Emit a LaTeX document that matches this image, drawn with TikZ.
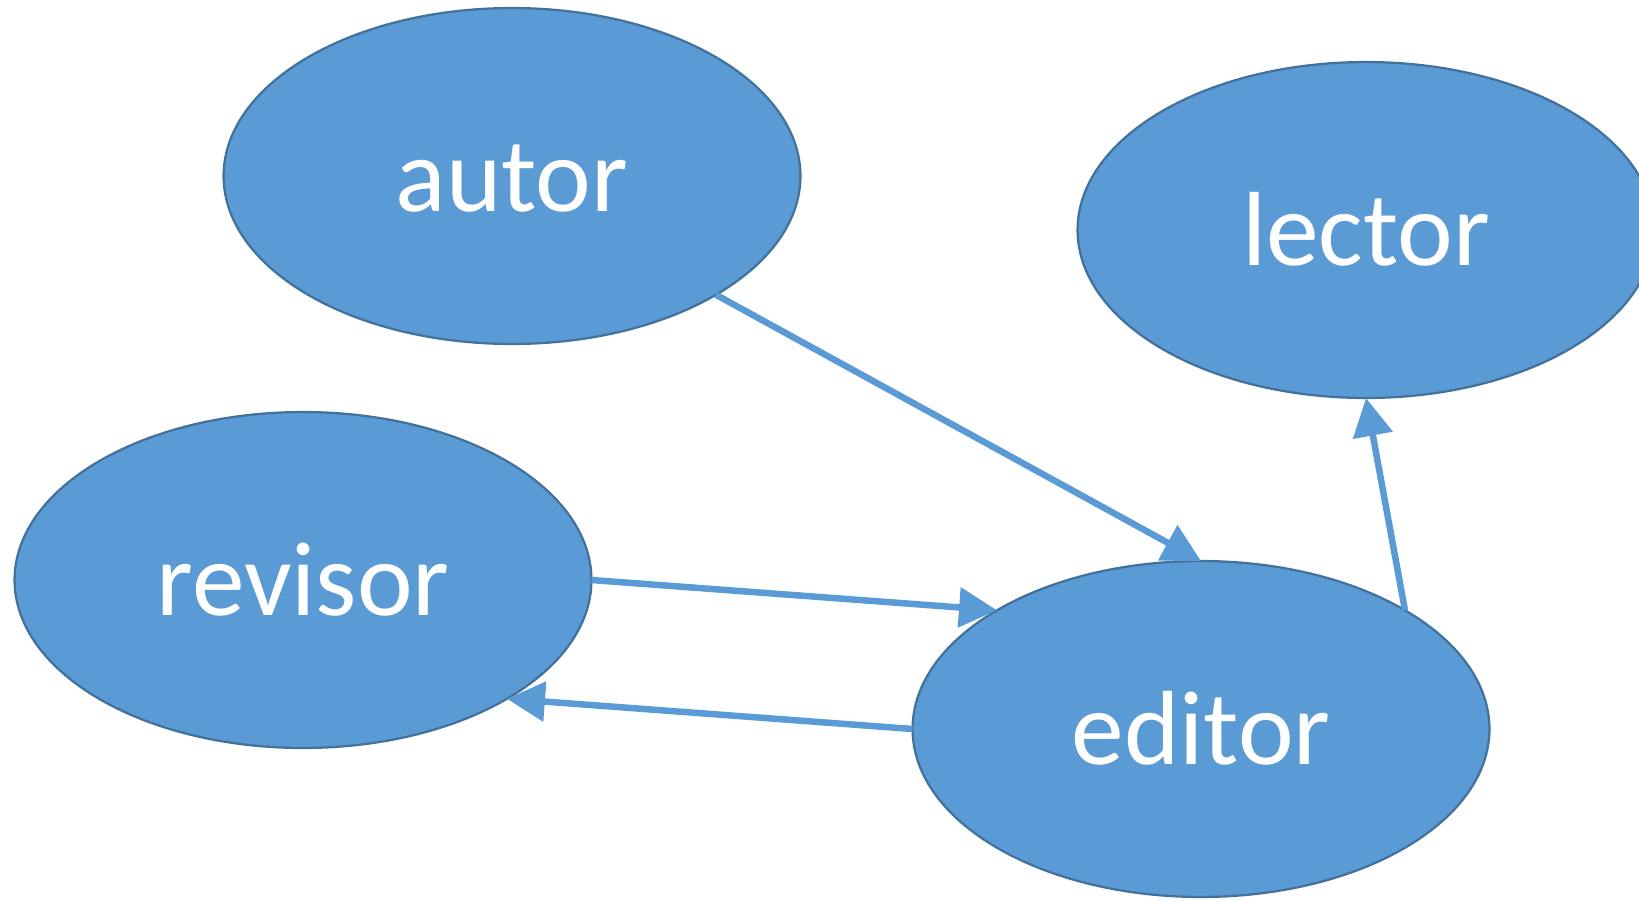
\documentclass[tikz,border=0pt]{standalone}
\usepackage{fontspec}
\setmainfont{Carlito}
\usetikzlibrary{shapes.geometric,arrows.meta}
\definecolor{roleblue}{RGB}{91,155,213}
\definecolor{roleedge}{RGB}{65,113,156}

\begin{document}
\begin{tikzpicture}[x=0.02cm,y=-0.02cm,role/.style={shape=ellipse,draw=roleedge,line width=0.045cm,fill=roleblue,text=white,minimum width=11.54cm,minimum height=6.72cm,inner sep=0pt,outer sep=0pt,text height=1.42cm,text depth=0pt,font=\fontsize{60}{64}\selectfont},link/.style={draw=roleblue,line width=0.13cm,-{Triangle[length=0.76cm,width=0.78cm]}}]
\useasboundingbox (0,0) rectangle (1639,900);

\node[role] (autor) at (512,176) {autor};
\node[role] (lector) at (1366,230) {lector};
\node[role] (revisor) at (303,580) {revisor};
\node[role] (editor) at (1201,729) {editor};

\draw[link] (autor.south east) -- (editor.north);
\draw[link] (revisor.east) -- (editor.north west);
\draw[link] (editor.west) -- (revisor.south east);
\draw[link] (editor.north east) -- (lector.south);
\end{tikzpicture}
\end{document}
